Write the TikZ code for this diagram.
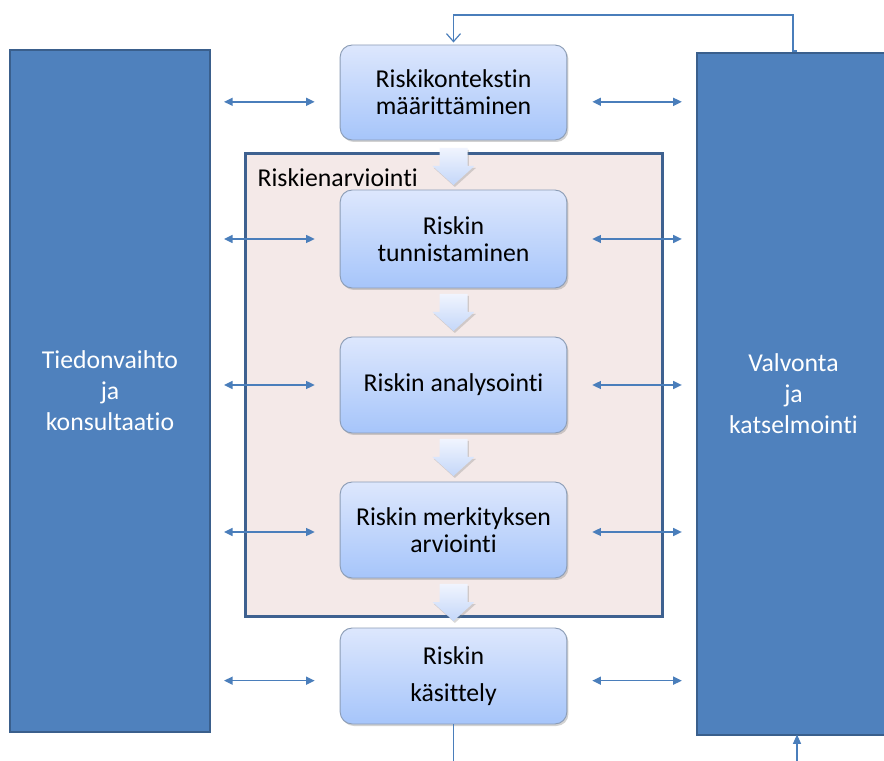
\documentclass[tikz,border=0pt]{standalone}
\usepackage{fontspec}
\setmainfont{Carlito}[RawFeature={-liga;-clig;-calt}]
\usetikzlibrary{arrows.meta,shadows}
\definecolor{sideblue}{HTML}{4F81BD}
\definecolor{sideedge}{HTML}{3A5F8C}
\definecolor{framefill}{HTML}{F4E9E8}
\definecolor{frameedge}{HTML}{3E6190}
\definecolor{boxtop}{HTML}{DDE7FD}
\definecolor{boxbot}{HTML}{A6C5FA}
\definecolor{boxedge}{HTML}{8C9DB6}
\definecolor{conn}{HTML}{4A7EBB}
\definecolor{arrtop}{HTML}{F0F4FE}
\definecolor{arrbot}{HTML}{C4D7F9}
\tikzset{
  sidebox/.style={draw=sideedge, line width=1.5pt, fill=sideblue, text=white,
    minimum width=#1, inner sep=0pt, align=center,
    font=\fontsize{19.3}{23.25}\selectfont},
  stepbox/.style={draw=boxedge, line width=0.7pt, rounded corners=9pt,
    top color=boxtop, bottom color=boxbot,
    drop shadow={opacity=0.35, shadow xshift=1.2pt, shadow yshift=-1.5pt},
    minimum width=170pt, minimum height=72pt, inner sep=0pt, align=center,
    font=\fontsize{19.3}{20.5}\selectfont},
  dbl/.style={draw=conn, line width=1.1pt, {Triangle[length=6.5pt,width=6pt]}-{Triangle[length=6.5pt,width=6pt]}},
  blkarrow/.pic={
    \path[top color=arrtop, bottom color=arrbot,
      drop shadow={opacity=0.3, shadow xshift=1pt, shadow yshift=-1.5pt}]
      (-14,0) -- (14,0) -- (14,-18) -- (21,-18) -- (0,-37) -- (-21,-18) -- (-14,-18) -- cycle;
  }
}
\begin{document}
\begin{tikzpicture}[x=0.75pt,y=0.75pt]
\clip (0,0) rectangle (884,760);
\fill[white] (0,0) rectangle (884,760);

% side columns
\node[sidebox=150pt, minimum height=511.5pt] (L) at (110,369)
  {Tiedonvaihto\\ja\\konsultaatio};
\node[sidebox=145pt, minimum height=511.5pt] (R) at (793.5,366)
  {Valvonta\\ja\\katselmointi};

% risk assessment frame
\node[draw=frameedge, line width=2.25pt, fill=framefill,
  minimum width=312.75pt, minimum height=346.5pt, inner sep=0pt] (F) at (453.5,375) {};
\node[anchor=west, inner sep=1pt, font=\fontsize{19.3}{21}\selectfont] (FL) at (256,582) {Riskienarviointi};

% steps
\node[stepbox, minimum height=71.25pt] (b1) at (453.5,667.5) {Riskikontekstin\\määrittäminen};
\node[stepbox, minimum height=73.5pt] (b2) at (453.5,521) {Riskin\\tunnistaminen};
\node[stepbox] (b3) at (453.5,375) {Riskin analysointi};
\node[stepbox] (b4) at (453.5,230) {Riskin merkityksen\\arviointi};
\node[stepbox] (b5) at (453.5,84) {Riskin\\[7.5pt]käsittely};

% block arrows
\pic at (453.5,612) {blkarrow};
\pic at (453.5,466) {blkarrow};
\pic at (453.5,321) {blkarrow};
\pic at (453.5,176) {blkarrow};

% two-way connectors
\foreach \b/\dy in {b1/-7, b2/0, b3/0, b4/-1.5, b5/-3.5}{
  \draw[dbl, shorten <=9.75pt, shorten >=18.75pt]
    ([yshift=\dy pt]L.east |- \b.west) -- ([yshift=\dy pt]\b.west);
  \draw[dbl, shorten <=18.75pt, shorten >=10.5pt]
    ([yshift=\dy pt]\b.east) -- ([yshift=\dy pt]R.west |- \b.east);
}

% feedback loop
\coordinate (fbstart) at (797,709);
\coordinate (fbcorner) at (793,709);
\draw[conn, line width=0.9pt, -{Straight Barb[length=6pt,width=10.5pt]}]
  (fbstart) -- (fbcorner) -- (793,745) -- (453.5,745) -- ([yshift=1.5pt]b1.north);

% bottom lines
\coordinate (bottomA) at (453.5,-5);
\coordinate (bottomB) at (797,-5);
\draw[conn, line width=0.9pt] (b5.south) -- (bottomA);
\draw[conn, line width=0.9pt, -{Triangle[length=7pt,width=6pt]}] (bottomB) -- (797,25.5);
\end{tikzpicture}
\end{document}
